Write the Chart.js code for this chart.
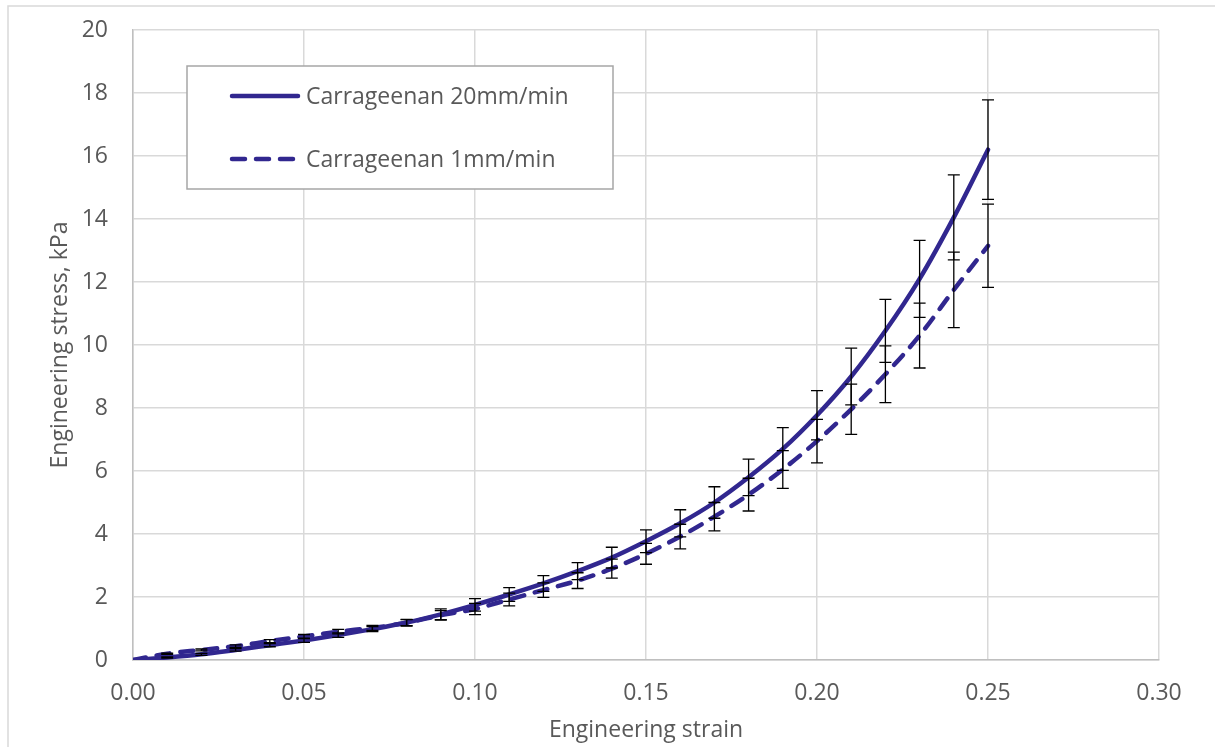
<!DOCTYPE html>
<html>
<head>
<meta charset="utf-8">
<script src="https://cdn.jsdelivr.net/npm/chart.js@4/dist/chart.umd.min.js"></script>
<style>
  html, body { margin: 0; padding: 0; background: #fff; }
  #chartContainer { width: 1215px; height: 747px; }
</style>
</head>
<body>
<div id="chartContainer"><canvas id="chartStress"></canvas></div>
<script>
/* data */
const strain = [0, 0.01, 0.02, 0.03, 0.04, 0.05, 0.06, 0.07, 0.08, 0.09, 0.10, 0.11, 0.12,
  0.13, 0.14, 0.15, 0.16, 0.17, 0.18, 0.19, 0.20, 0.21, 0.22, 0.23, 0.24, 0.25];
const stress20 = [0, 0.08, 0.18, 0.32, 0.47, 0.62, 0.79, 0.98, 1.19, 1.45, 1.75, 2.08, 2.43,
  2.82, 3.25, 3.77, 4.34, 5.0, 5.8, 6.7, 7.77, 9.0, 10.45, 12.1, 14.05, 16.2];
const err20 = [0, 0.02, 0.03, 0.04, 0.05, 0.06, 0.07, 0.08, 0.1, 0.17, 0.2, 0.22, 0.25,
  0.27, 0.33, 0.36, 0.43, 0.5, 0.58, 0.68, 0.78, 0.9, 1.0, 1.22, 1.35, 1.58];
const stress1 = [0, 0.2, 0.32, 0.44, 0.6, 0.75, 0.9, 1.02, 1.18, 1.42, 1.62, 1.92, 2.22,
  2.52, 2.9, 3.37, 3.92, 4.55, 5.25, 6.05, 6.95, 7.96, 9.07, 10.3, 11.75, 13.15];
const err1 = [0, 0.02, 0.03, 0.04, 0.05, 0.06, 0.07, 0.08, 0.1, 0.15, 0.18, 0.2, 0.23,
  0.25, 0.3, 0.33, 0.39, 0.45, 0.52, 0.6, 0.69, 0.8, 0.9, 1.03, 1.2, 1.32];
const seriesLabels = ['Carrageenan 20mm/min', 'Carrageenan 1mm/min'];
const xTitle = 'Engineering strain';
const yTitle = 'Engineering stress, kPa';

const lineColor = '#31278f';
const textColor = '#595959';
const fontFamily = '"Open Sans", Lato, sans-serif';
const fontSize = 23;

function toPoints(xs, ys) {
  return xs.map(function (x, k) { return { x: x, y: ys[k] }; });
}

/* gray frame of the chart object */
const framePlugin = {
  id: 'frame',
  beforeDraw: function (chart) {
    const ctx = chart.ctx;
    ctx.save();
    ctx.fillStyle = '#fff';
    ctx.fillRect(0, 0, chart.width, chart.height);
    ctx.strokeStyle = '#d9d9d9';
    ctx.lineWidth = 1.5;
    ctx.strokeRect(8, 6, chart.width + 20, chart.height + 20);
    ctx.restore();
  },
};

/* error bars, one per point */
const errorBarPlugin = {
  id: 'errorBars',
  afterDatasetsDraw: function (chart) {
    const ctx = chart.ctx;
    const xs = chart.scales.x;
    const ys = chart.scales.y;
    ctx.save();
    ctx.strokeStyle = '#000';
    ctx.lineWidth = 1.3;
    chart.data.datasets.forEach(function (ds) {
      ds.data.forEach(function (p, k) {
        const e = ds.errors[k];
        if (!e) return;
        const px = xs.getPixelForValue(p.x);
        const top = ys.getPixelForValue(p.y + e);
        const bot = ys.getPixelForValue(p.y - e);
        ctx.beginPath();
        ctx.moveTo(px, top);
        ctx.lineTo(px, bot);
        ctx.moveTo(px - 6, top);
        ctx.lineTo(px + 6, top);
        ctx.moveTo(px - 6, bot);
        ctx.lineTo(px + 6, bot);
        ctx.stroke();
      });
    });
    ctx.restore();
  },
};

/* boxed legend inside the plot */
const boxLegendPlugin = {
  id: 'boxLegend',
  afterDraw: function (chart) {
    const ctx = chart.ctx;
    ctx.save();
    ctx.fillStyle = '#fff';
    ctx.fillRect(187, 66, 426, 123);
    ctx.strokeStyle = '#a6a6a6';
    ctx.lineWidth = 1.5;
    ctx.strokeRect(187, 66, 426, 123);
    const rows = [96, 159];
    chart.data.datasets.forEach(function (ds, k) {
      ctx.strokeStyle = ds.borderColor;
      ctx.lineWidth = ds.borderWidth;
      ctx.lineCap = 'round';
      ctx.setLineDash(ds.borderDash || []);
      ctx.beginPath();
      ctx.moveTo(232, rows[k]);
      ctx.lineTo(298, rows[k]);
      ctx.stroke();
      ctx.setLineDash([]);
      ctx.fillStyle = textColor;
      ctx.font = fontSize + 'px ' + fontFamily;
      ctx.textBaseline = 'middle';
      ctx.fillText(ds.label, 306, rows[k] + 1);
    });
    ctx.restore();
  },
};

const ctxStress = document.getElementById('chartStress');
const chart = new Chart(ctxStress, {
  type: 'line',
  data: {
    datasets: [
      {
        label: seriesLabels[0],
        data: toPoints(strain, stress20),
        errors: err20,
        borderColor: lineColor,
        borderWidth: 4.5,
        borderCapStyle: 'round',
        pointRadius: 0,
        fill: false,
        cubicInterpolationMode: 'monotone',
      },
      {
        label: seriesLabels[1],
        data: toPoints(strain, stress1),
        errors: err1,
        borderColor: lineColor,
        borderWidth: 4.5,
        borderDash: [13, 11],
        borderCapStyle: 'round',
        pointRadius: 0,
        fill: false,
        cubicInterpolationMode: 'monotone',
      },
    ],
  },
  options: {
    responsive: true,
    maintainAspectRatio: false,
    animation: false,
    layout: {
      padding: { top: 30, right: 56, left: 0, bottom: 0 },
    },
    plugins: {
      legend: { display: false },
      tooltip: { enabled: false },
    },
    scales: {
      x: {
        type: 'linear',
        min: 0,
        max: 0.3,
        afterFit: function (scale) { scale.height = 87; },
        ticks: {
          stepSize: 0.05,
          padding: 20,
          color: textColor,
          font: { family: fontFamily, size: fontSize },
          callback: function (v) { return v.toFixed(2); },
        },
        grid: { color: '#d9d9d9', lineWidth: 1.5, drawTicks: false },
        border: { color: '#bfbfbf', width: 1.5 },
        title: {
          display: true,
          text: xTitle,
          color: textColor,
          font: { family: fontFamily, size: fontSize },
          padding: { top: 0, bottom: 3 },
        },
      },
      y: {
        min: 0,
        max: 20,
        afterFit: function (scale) {
          scale.width = 133;
          scale.paddingTop = 0;
          scale.paddingBottom = 0;
        },
        ticks: {
          stepSize: 2,
          padding: 25,
          color: textColor,
          font: { family: fontFamily, size: fontSize },
        },
        grid: { color: '#d9d9d9', lineWidth: 1.5, drawTicks: false },
        border: { color: '#bfbfbf', width: 1.5 },
        title: {
          display: true,
          text: yTitle,
          color: textColor,
          font: { family: fontFamily, size: fontSize },
          padding: { top: 47, bottom: 0 },
        },
      },
    },
  },
  plugins: [framePlugin, errorBarPlugin, boxLegendPlugin],
});
</script>
</body>
</html>
